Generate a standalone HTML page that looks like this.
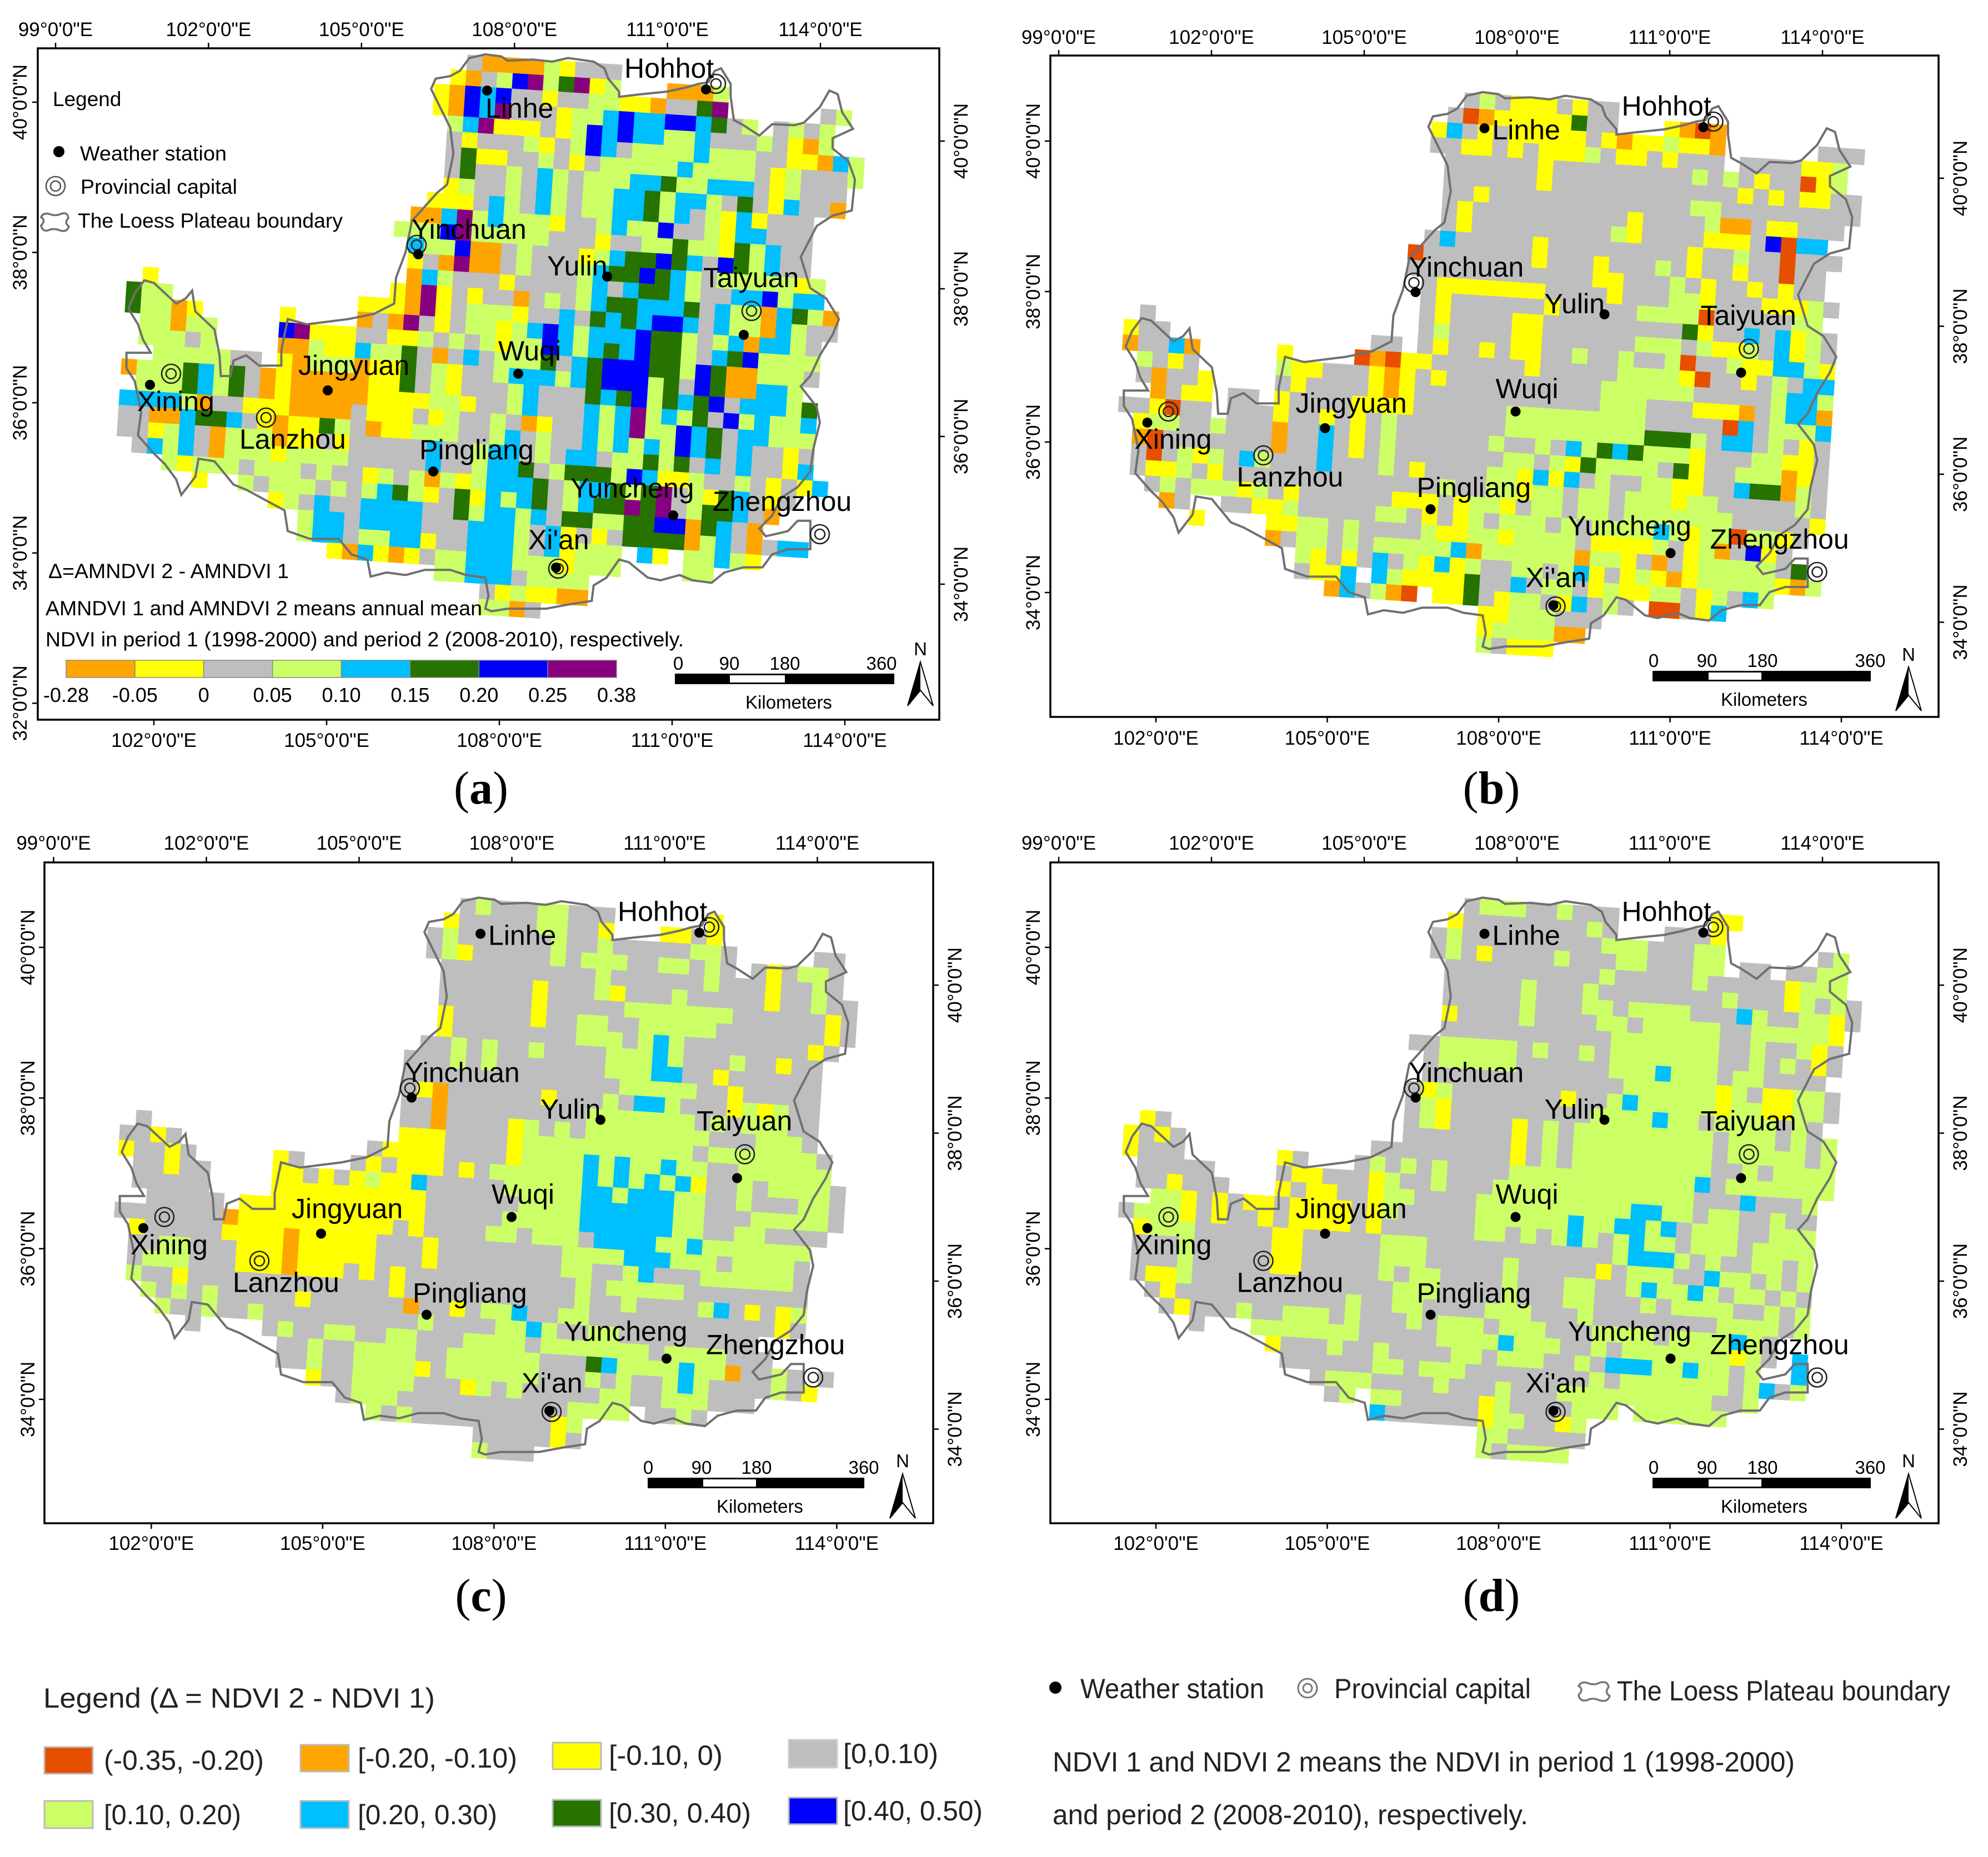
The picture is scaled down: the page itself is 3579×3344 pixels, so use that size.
<!DOCTYPE html>
<html>
<head>
<meta charset="utf-8">
<title>Loess Plateau NDVI change maps</title>
<style>
html,body{margin:0;padding:0;background:#fff}
svg{display:block}
text{font-family:"Liberation Sans",sans-serif;fill:#000}
</style>
</head>
<body>
<svg id="figure" xmlns="http://www.w3.org/2000/svg" width="3579" height="3344" viewBox="0 0 3579 3344">
<rect x="0" y="0" width="3579" height="3344" fill="#fff"/>
<g id="maps"></g>
<g fill="#222">
<text x="78" y="3075" font-size="50" textLength="705" lengthAdjust="spacingAndGlyphs" style="fill:#222">Legend  (Δ = NDVI 2 - NDVI 1)</text>
<rect x="80" y="3146" width="87" height="48" fill="#E64E00" stroke="#bbb" stroke-width="3"/>
<text x="187" y="3187" font-size="50" textLength="288" lengthAdjust="spacingAndGlyphs" style="fill:#222">(-0.35, -0.20)</text>
<rect x="541" y="3142" width="87" height="48" fill="#FFA500" stroke="#bbb" stroke-width="3"/>
<text x="644" y="3183" font-size="50" textLength="287" lengthAdjust="spacingAndGlyphs" style="fill:#222">[-0.20, -0.10)</text>
<rect x="995" y="3138" width="87" height="48" fill="#FFFF00" stroke="#bbb" stroke-width="3"/>
<text x="1096" y="3178" font-size="50" textLength="205" lengthAdjust="spacingAndGlyphs" style="fill:#222">[-0.10, 0)</text>
<rect x="1420" y="3133" width="87" height="50" fill="#BEBEBE" stroke="#ccc" stroke-width="3"/>
<text x="1518" y="3175" font-size="50" textLength="171" lengthAdjust="spacingAndGlyphs" style="fill:#222">[0,0.10)</text>
<rect x="80" y="3243" width="87" height="49" fill="#CCFF66" stroke="#bbb" stroke-width="3"/>
<text x="187" y="3285" font-size="50" textLength="247" lengthAdjust="spacingAndGlyphs" style="fill:#222">[0.10, 0.20)</text>
<rect x="541" y="3243" width="87" height="49" fill="#00BFFF" stroke="#bbb" stroke-width="3"/>
<text x="644" y="3285" font-size="50" textLength="251" lengthAdjust="spacingAndGlyphs" style="fill:#222">[0.20, 0.30)</text>
<rect x="995" y="3241" width="87" height="48" fill="#267300" stroke="#bbb" stroke-width="3"/>
<text x="1096" y="3282" font-size="50" textLength="256" lengthAdjust="spacingAndGlyphs" style="fill:#222">[0.30, 0.40)</text>
<rect x="1420" y="3237" width="87" height="48" fill="#0000FF" stroke="#bbb" stroke-width="3"/>
<text x="1518" y="3278" font-size="50" textLength="251" lengthAdjust="spacingAndGlyphs" style="fill:#222">[0.40, 0.50)</text>
<circle cx="1900" cy="3039" r="11" fill="#000"/>
<text x="1945" y="3058" font-size="50" textLength="331" lengthAdjust="spacingAndGlyphs" style="fill:#222">Weather station</text>
<g fill="none" stroke="#777" stroke-width="3"><circle cx="2354" cy="3040" r="17"/><circle cx="2354" cy="3040" r="8"/></g>
<text x="2402" y="3058" font-size="50" textLength="354" lengthAdjust="spacingAndGlyphs" style="fill:#222">Provincial capital</text>
<path d="M2856 3030 q14 6 24 0 q14 -4 16 8 q-8 10 2 16 q-4 12 -18 8 q-12 -6 -24 0 q-12 2 -14 -10 q10 -10 0 -16 q4 -8 14 -6z" fill="none" stroke="#777" stroke-width="3.5"/>
<text x="2911" y="3062" font-size="50" textLength="600" lengthAdjust="spacingAndGlyphs" style="fill:#222">The Loess Plateau boundary</text>
<text x="1895" y="3190" font-size="50" textLength="1336" lengthAdjust="spacingAndGlyphs" style="fill:#222">NDVI 1 and NDVI 2 means the NDVI in period 1 (1998-2000)</text>
<text x="1895" y="3285" font-size="50" textLength="856" lengthAdjust="spacingAndGlyphs" style="fill:#222">and period 2 (2008-2010), respectively.</text>
</g>
</svg>
<script>
const classColors = {R:'#E64E00',O:'#FFA500',Y:'#FFFF00',G:'#BEBEBE',L:'#CCFF66',B:'#00BFFF',D:'#267300',N:'#0000FF',P:'#880080'};

const panelARows = [
"...... ...... ...... ....GO OOOLYG G..... ...... ......",
"...... ...... ...... ...YOG LNPLDP YG.... ...... ......",
"...... ...... ...... ..YONB NGGYGG LL...O OOL... ......",
"...... ...... ...... ..YONB PGGGYL LLYYOG GDP... ...G..",
"...... ...... ...... ...LBP YYYGYL NBNBBN NBDGL. GLGLL.",
"...... ...... ...... ...GYG GGLYGL NBNBBL LBGGGL GYOL..",
"...... ...... ...... ...GDY YGGLGY GBGLLL LBLLLG GYYOB.",
"...... ...... ...... ...GDG GLGBLG LLLLLL BLLLLG YLGGGL",
"...... ...... ...... ...YLG GLGBLG LLLBBD LLBBBG YLGGGL",
"...... ...... ...... ..YYYG BLGBLG LLBBDL BBLGDG YBGGO.",
"...... ...... ...... .OOBPL BLLLYG GLBBDL BGLYBY GGG...",
"...... ...... ...... LLLNPL LLLGGG GLBLLN GGLYBB GGG...",
"...... ...... ...... BLLNOO GLGGGY YGGLLD LLYDLB GG....",
"...... ...... ...... YGOPOO GLGGGL LBDDND BGNDLB GG....",
".Y.... ...... ...... OBLGGG YGGGGL BDDNDB LGLLLL LYL...",
"DLL... ...... .....Y OPYGYG GOGLGL BGBDDB LGGBBN LBB...",
"DLLOY. ....Y. ...YYY OPYGLL LYGGBG DDDBBB DGBLLO BDLO..",
".LLOLL ....NP YYYOGO PGYGLL YLBNBL BBDBNN BGBLLO BLGG..",
".LLLGL ....OO LYYGGY YLGLGL YLLNBL BBBNDD LGLBOB BLG...",
"..LLLL LGG.YO LLLBLL DGOGBG LLLDGB DDBNDD LGBDNL LLL...",
"OLLLDB LDGOYO OOOOYY DGLYGG LBBBLB DNNNDD LNDOOL LLG...",
".LLLDB LDGOYO OOOOYY DGLYGG GLBGGG DNNNLD GNDOOB BL....",
"BBBBLO GGYYYO OOOOYY YYLLYG GLBGGG BBDNLD BDNGBB BLD...",
"GGOOBD DBGYOY YDLGYY YGYLGG LGOYGG BLBPLB LDGNLB LLB...",
"GGYLBG OLLLOY YGYGOY YLLLGG LBGLGG BLBPLL NBDGBB LLL...",
".GBLBG OLLLYL LLLGGG GGBGGL BBGLGB BLBLBL NBDGBG GYG...",
"...LYL LLGLLL GLGGGG GGBGGL BBDGLD DGLLDL DGBGBG GYB...",
"....Y. .LGLLL GLGYLG LOLYLB BBDGLB BDLNBY LGGLGY GYB...",
"...... ...YLG BGGLBD LYGDYB LBDGLB BDLDPG LYDBGY G.....",
"...... .....L BBGBBB BGGDLB BLBGDD DDPDPG LDDBGO ......",
"...... .....L BBGBBB BGGGBB BLGBYG LLDDNN ODBGO. ......",
"...... ...... .YOLLB BYGGBB BLGBYL YGDDDD OLBGOG BB....",
"...... ...... ...BYO YGLLBB BLLLYL LL.BY. LLBLY. ......",
"...... ...... ...... ..LLBB BGLLLL LL.... LL.... ......",
"...... ...... ...... .....G YLYYOO ...... ...... ......",
"...... ...... ...... .....L LOG... ...... ...... ......"
];

const panelBRows = [
"...... ...... ...... ....GL GYYYGY G..... ...... ......",
"...... ...... ...... ...GRO YYYYYD GG.... ...... ......",
"...... ...... ...... ..YBGY GYYYYY GG...Y ORO... ......",
"...... ...... ...... ..GGYY GYGYYY LYOYYL YYO... ...G..",
"...... ...... ...... ...GGG GGGYGG GGYYGY GGG.GG GGYYGG",
"...... ...... ...... ...GGG GGGYGG GGGGGG GLGLGY GGRYL.",
"...... ...... ...... ...GGY GGGGGG GGGGGG GGGGYG YGYYG.",
"...... ...... ...... ...GYG GGGGGG GGGGGG GLLGGG GGGGGG",
"...... ...... ...... ...GYG GGGGGG GGGYGG GGLOOG YYGGGG",
"...... ...... ...... ..GBGG GGGYGG GGLYGG GGYYYG NRBB..",
"...... ...... ...... .RGGGG GGGYGG GGGGGG GYGGLG GRGGG.",
"...... ...... ...... .GGGGG GGGGGG GYGGGL GYGGYG GRGG..",
"...... ...... ...... .GYYYY YYYGGG YYGGGL GYGGYG YGG...",
"...... ...... ...... .GYGGG GGGYGG GYGGGL LYGGGY YYLG..",
".G.... ...... ...... .GYGGG GYYGGG GGGLLL LRGGGG GLL...",
"YGG... ...... ...... .GLGGG GYYGGG GGGGGG DYGGBG BYLG..",
"OGGBO. ....Y. ....GG .GYGGY GYYGGL GGGLLL GLYYLG BYLG..",
".LGYG. ....LY YGGROR YYGGGG GGYGGG GGLGGL RGGLYY BBLY..",
".GOGGY ....GY GGGGYO YGYGGG GGGGGG GGLLLL YRGGYG LGBB..",
"..OGYY .GG.YG GGGGYO YGGGGG GGGGGG GLLLLL LGGGGG LBBL..",
"GGYRGG .GGGYG GYGYYY YGGGGG GLLLLL LLLLGG GYYYOG LBBO..",
".YLLGG LGGGOG GBGYGL GGGGGG GLLLLL LLLLGG GGGRBG LLLB..",
".ORGGG GGGGOG GBGYGL GGGGGG LGGLGB LLLLDD DLGBBG LGYG..",
".GRGLY LGBLGG GBGYGL GGGGGG GLLGLY DDBDLL LYGGGL LYYG..",
".GYYLG YGGGGG GGGGGL GYGGGG LLYBYB GLLLLG DYGGLL LOYG..",
"..GLGL LLYLGY GGGGGG GGGLGG LLYLLG LLGGLL YYGGBD DOLG..",
"...OG. .GGYYL GGGGGG YYYGYL LYGLLG LLGLLL YLLGGG GGLG..",
"....Y. ...YYL LGLGLL GYGYLG LLLGLG LLGLLL LLLGGG GGY...",
"...... ...OGL LGLGGG GLYYLL YLLLLG LLLLBL YLLRLL YG....",
"...... .....L YGYGLL LLLBOL LLLLLO YYYYLG YLOGNY G.....",
"...... .....G YYBGBG LYBYLG GLLGLB LLYGOG YLLLLL GD....",
"...... ...... .OB.BL YYYYDG GBGLLG YGYLYO YLLLLL YOL...",
"...... ...... ...GLO R.YYDG YLLGYB YLYYLL GYLGBL ......",
"...... ...... ...... .....Y YLLLGG GLG.RR GYB... ......",
"...... ...... ...... .....Y LLLLOO G..... ...... ......",
"...... ...... ...... .....L GYYY.. ...... ...... ......"
];

const panelCRows = [
"...... ...... ...... ....GL GGGLLG G..... ...... ......",
"...... ...... ...... ...YGG GGGLLG GG.... ..Y... ......",
"...... ...... ...... ..GLGG GGGGLG GY...Y YGY... ......",
"...... ...... ...... ..GLYG GGGGLG LLGGGG GLLG.. ...G..",
"...... ...... ...... ...GGG GGGGGG GLLGGL LGLG.G YGLLG.",
"...... ...... ...... ...GGG GGGYGG GLGGGG GGLGGG YGGLG.",
"...... ...... ...... ...GGG GGGYGG GLYGGG LGGGGG YGGLG.",
"...... ...... ...... ...YGG GGGYGG LGGLLL LLLLGG GGGGYG",
"...... ...... ...... ...YGG GGGGGG LLGGLL LLLGGG GGGGYG",
"...... ...... ...... ..GGLG LGGLGG GLLGLB LGGGGG GGGYGG",
"...... ...... ...... .GGGLG LGGGGG GGLLLB LGGGLG GYGG..",
"...... ...... ...... .GGGGG GGGGGG GGLLLB BGGYGG GGGG..",
"...... ...... ...... GYOGGG GGGYGG GGLLLL LGGYGG GGG...",
"...... ...... ...... GGOGGG GGGGGG GLGBBL GGGYLY LGG...",
".G.... ...... ...... GGOGGG GYLGLG LLLLLL LGLGLL LGG...",
"GGYG.. ...... ...... YYYGGG GYLLLL LLLLLL LLGGGL LLG...",
"YGGYG. ....YG ....GY YYYGGG GYLLLL BLLLLL LGLLLL LLLG..",
".GGYGG ....YY GYGGYG YYYGYG LLLLLL BLBLLB LLGGLL LLLL..",
".GGGGG ....YY YYYYLY YBGGGG GLLLLL BLBLBL BYGGLG LLLL..",
"..GGGG G.YYYY YYYYYY YYGGGG GGLLLL BBLBBB LLGGLG GGLLG.",
"GGGGGG GOYYYY YYYYYY YYGGGG GLLLLL BBBBBB LLGGGL LLLLG.",
".YGGGG GYYYYO YYYYYY GYGGGG LLGLLL GBBBBB LLGGLL GGGGG.",
".GGLLG GGYYYO YYYYYG GGYGGG GGGGGL LBBBBL LBLLLL LLL...",
".GLLLG GGYYYO YYYYYG GGYGGG GGGGGL LLLBBB LLLGLL LLG...",
".LGGYG GGGGGG GGGGYG YGGGGG GGGGGG LGGLBG GGLLLL LLG...",
"..LGLG LGGGGG YGGGGG YGGGGG GGGGGG LGLLLL LGGGGG GGG...",
"...LGG LGGLGG GGGGGG GOGGYG LLBGGL LGGLGG GGLBGY GYL...",
"....G. ...GLG GLLGGG GLGGGG LLBLGG GGGGGG GGGGGG YG....",
"...... ....GG LGGGGL LGGGLL LLGLLL LLGGGG GGGGG. ......",
"...... ....GG LGGLLL LGGLLL LLLGGG LLLLGL LLLGGG ......",
"...... ...... YGGLLL LYGLLL LLLGGG DBLLLL BLLOGG LG.G..",
"...... ...... ..GLLL LGGGYL GLGGGG LGLGGL BLGGGG LGY...",
"...... ...... ...LLL GGGGGG GGGGGL GLLGGL LLGGG. ......",
"...... ...... ....LG LGGGGG GGGGYL LLL.GG LG.... ......",
"...... ...... ...... .....G GGGGYG ...... ...... ......",
"...... ...... ...... .....L GGG... ...... ...... ......"
];

const panelDRows = [
"...... ...... ...... ....GL LLGGLG G..... ...... ......",
"...... ...... ...... ...YGG GGGGGG LG.... ..YY.. ......",
"...... ...... ...... ..GLGG GGGGGG GG...G GGY... ......",
"...... ...... ...... ..GLGY GGGGLG GLLLGG GLL... ...G..",
"...... ...... ...... ...GGG GGGGGG GGLLGG GLL.GG .GGLL.",
"...... ...... ...... ...GGG GGLGGG LLGGGG GLGGGG GYLLL.",
"...... ...... ...... ...GGG GGLGGG LGGGGG GGGLGG GYLGL.",
"...... ...... ...... ...YGG GGLGGG GLGLLL LGGGBL GGLLYG",
"...... ...... ...... ...GGG GGGGGG GLLGLL LLLGGL LLLLYG",
"...... ...... ...... .GGLLL LLGLGG LGLLLL LLLGGL GGLYG.",
"...... ...... ...... ..GLLL LLGGGG GGLLLL LLLGGL GLGYG.",
"...... ...... ...... ..GGGG GGGGGG GGLLLB LLLGLL GGGG..",
"...... ...... ...... GYLGGG GGGGYG GGLLLL LLYLGY YLLG..",
"...... ...... ...... GLYGGG GGGGGG GLBLLL LLYLLY YLLG..",
".YG... ...... ...... GLYGGG GYGLGL LLLLBL LGLLLL GLG...",
"YGYG.. ...... ...... GGGGGG GYGLGL LLLLLL LLGLLL GLGL..",
"YGGG.. ....YG ....GG GGGGGG GYGLGL LLLLLL LLGLLL LLGL..",
".GGGGG ....GY YGGGLG LGLGGG GLLLLL LLLLLL LLGGLG LLLL..",
".GGYGG G...YG YYGGYL GGLGGG LLLLLL LLLLLL LBGLLL LLLL..",
"..LLYG YGYYGY YYYGYL LGGGGL LLLLLL LLLLLL LGGGBG GGL...",
"GLLLYG YGGYGY YYYGYL GGGGGL LLLLLB LLLBBL LGLLGG LGG...",
".YLLLG GGGGYY GGGGYG GGGGGL LGLGLB LLBBLB GLLLGG LLL...",
".GGGLG GGGGYY GGGGGL LLGGGG GGGGGG GGLBLL GLLLGL LLL...",
".GGGLG GGGGYY GGGGGL LLGGGG GLGGGG GGLBBB LGLGGL LGL...",
".GYYLG GGGGGG GGGGGL GLLGGG GLGGGL LYGLLL GGBLLG LGL...",
"..GYGG GGGGGG GGGLGG LLLGGG GLGGGL LGGLBL LBLGLL GLG...",
"...GYG GGLGGL LLGLGG LLGGGG LLLGGG LGGGLG LLLLGG LGL...",
"....G. ..LLLL LLLGGG LGLLLG LLLGGG LGGGGG GGLLLL GL....",
"...... ...YGG GLGGGG GGLLLL BLLLGG LLLLGL LLLBLG ......",
"...... ....GG GGGGLG GGGLLG LLLGGL LGLLLL LLLYLG .B....",
"...... ...... GLLGLL GLLLGG GGGGGG GBBBLL BLLGL. .B....",
"...... ...... .GLLGG GGLGGG LGGGLL LGLLLL LLLGLB GL....",
"...... ...... ....LL GGGGGY LGGGGL LLLLLL LLGGL. ......",
"...... ...... ....BG GGGGGY LLGGYL LL.LLL LLL... ......",
"...... ...... ...... .....L LGGGGG ...... ...... ......",
"...... ...... ...... .....L GLLLL. ...... ...... ......"
];

const boundaryTrace = [690,235,697,215,720,210,735,200,750,175,775,168,800,172,810,180,850,178,880,182,905,175,945,182,962,195,968,215,985,240,985,250,1020,245,1060,240,1090,232,1110,225,1125,222,1135,200,1145,195,1160,225,1160,250,1165,295,1180,305,1205,325,1225,303,1260,305,1275,300,1300,270,1315,238,1328,245,1335,280,1352,312,1320,330,1320,350,1345,375,1355,410,1350,470,1320,480,1295,500,1270,560,1285,620,1310,640,1330,680,1320,710,1300,750,1285,790,1270,810,1295,850,1300,880,1290,930,1285,975,1265,1005,1240,1025,1225,1060,1205,1085,1215,1100,1250,1090,1265,1070,1285,1070,1285,1125,1250,1125,1225,1135,1210,1160,1180,1160,1150,1170,1130,1190,1100,1185,1080,1175,1050,1185,1030,1180,1000,1150,985,1145,965,1180,945,1195,942,1225,905,1232,870,1240,855,1240,810,1240,785,1245,775,1240,780,1215,775,1180,745,1175,720,1165,680,1165,650,1175,620,1170,595,1178,590,1145,565,1135,545,1105,500,1105,465,1090,460,1050,430,1030,400,1010,380,1000,350,955,325,950,320,985,298,1020,290,990,272,960,255,940,230,905,235,860,225,800,212,775,212,745,250,745,238,720,230,690,215,660,225,630,240,605,255,610,290,650,305,640,315,625,320,665,350,700,358,750,360,790,375,790,380,760,400,750,420,770,455,770,455,740,465,680,495,690,560,680,600,670,632,650,635,600,650,550,660,490,700,435,715,420,725,360,720,310];

const stationNames = ["Linhe","Hohhot","Yinchuan","Yulin","Taiyuan","Wuqi","Jingyuan","Xining","Pingliang","Yuncheng","Xi'an"];
const stationLon = [877,1271,753,1093,1339,933,590,270,780,1212,1001];
const stationLat = [163,161,458,498,603,673,703,693,849,928,1022];
const capitalNames = ["Hohhot","Yinchuan","Taiyuan","Xining","Lanzhou","Xi'an","Zhengzhou"];
const capitalLon = [1289,750,1353,308,479,1005,1476];
const capitalLat = [151,441,560,673,752,1024,962];
const cityLabels = ["Hohhot","Linhe","Yinchuan","Yulin","Taiyuan","Wuqi","Jingyuan","Xining","Lanzhou","Pingliang","Yuncheng","Zhengzhou","Xi'an"];
const cityLabelX = [1124,891,741,985,1266,897,537,247,431,755,1027,1283,951];
const cityLabelY = [140,183,430,496,517,649,675,740,808,827,896,920,989];

const topLonTicks = [99,102,105,108,111,114];
const bottomLonTicks = [102,105,108,111,114];
const leftLatTicks = [40,38,36,34];
const rightLatTicks = [40,38,36,34];
const scaleLabels = [0,90,180,360];
const colorBarClasses = ["O","Y","G","L","B","D","N","P"];
const colorBarLabels = ["-0.28","-0.05","0","0.05","0.10","0.15","0.20","0.25","0.38"];

const SVGNS = 'http://www.w3.org/2000/svg';
const CELL = 27.93, GX = 220.2, GY = 100.6;
/* the raster grid is slightly rotated in the map projection */
const GRID_P = 27.9, GRID_COS = Math.cos(3.7 * Math.PI / 180), GRID_SIN = Math.sin(3.7 * Math.PI / 180), GRID_AX = 722.3, GRID_AY = 650.2;
const root = document.getElementById('maps');

function mk(tag, parent, name) {
  const el = document.createElementNS(SVGNS, tag);
  
  
  parent.appendChild(el);
  return el;
}
function txt(parent, name, x, y, s, size, anchor, rot, len) {
  const t = mk('text', parent, name);
  t.setAttribute('x', x);
  t.setAttribute('y', y);
  t.setAttribute('font-size', size);
  if (anchor) t.setAttribute('text-anchor', anchor);
  if (rot) t.setAttribute('transform', 'rotate(' + rot + ' ' + x + ' ' + y + ')');
  if (len) { t.setAttribute('textLength', len); t.setAttribute('lengthAdjust', 'spacingAndGlyphs'); }
  t.textContent = s;
  return t;
}
function line(parent, name, x1, y1, x2, y2, w) {
  const l = mk('line', parent, name);
  l.setAttribute('x1', x1); l.setAttribute('y1', y1);
  l.setAttribute('x2', x2); l.setAttribute('y2', y2);
  l.setAttribute('stroke', '#000');
  l.setAttribute('stroke-width', w);
  return l;
}
function rectEl(parent, name, x, y, w, h, fill) {
  const r = mk('rect', parent, name);
  r.setAttribute('x', x); r.setAttribute('y', y);
  r.setAttribute('width', w); r.setAttribute('height', h);
  r.setAttribute('fill', fill);
  return r;
}
function capitalSymbol(parent, name, cx, cy, col) {
  const g = mk('g', parent, name);
  [17, 9].forEach(function (rad) {
    const c = mk('circle', g, name + '-ring');
    c.setAttribute('cx', cx); c.setAttribute('cy', cy); c.setAttribute('r', rad);
    c.setAttribute('fill', 'none'); c.setAttribute('stroke', col); c.setAttribute('stroke-width', 2.6);
  });
}
function lonText(v) { return v + '°0\'0"E'; }
function latText(v) { return v + '°0\'0"N'; }

/* grid node position in base-map coordinates */
function nodeX(i, j) { return GRID_AX + GRID_P * (i * GRID_COS - j * GRID_SIN); }
function nodeY(i, j) { return GRID_AY + GRID_P * (i * GRID_SIN + j * GRID_COS); }

const panels = [
 {id:'a', rows:panelARows, dx:0, dy:0, frame:[68,87,1691,1296],
  topX:[100,275.4], botX:[277,311], leftY:[184,270.6], rightY:[254,266], topBase:65, botBase:1345,
  leftBase:48, rightBase:1742, lats:[40,38,36,34,32],
  scale:{bar:[1215,1610], white:[1314,1413], y:[1213,1232], base:1206, cx:[1221,1313,1413,1587], km:[1420,1276], n:[1657,1180], arrow:[1192,1271]},
  letter:[866,1447]},
 {id:'b', rows:panelBRows, dx:1795.5, dy:68, frame:[1891,100,3490,1291],
  topX:[1906,275], botX:[2081,308.5], leftY:[254,271], rightY:[321,266.5], topBase:79, botBase:1341,
  leftBase:1872, rightBase:3541, lats:leftLatTicks,
  scale:{bar:[2975,3368], white:[3076,3171], y:[1208,1227], base:1201, cx:[2977,3073,3173,3367], km:[3176,1271], n:[3436,1190], arrow:[1201,1280]},
  letter:[2685,1447]},
 {id:'c', rows:panelCRows, dx:-12, dy:1518.5, frame:[80,1553,1680,2743],
  topX:[96.5,275], botX:[272.4,308.5], leftY:[1706,271.3], rightY:[1774,266.5], topBase:1530, botBase:2791,
  leftBase:62, rightBase:1731, lats:leftLatTicks,
  scale:{bar:[1166,1556], white:[1266,1361], y:[2661,2680], base:2654, cx:[1167,1263,1362,1555], km:[1368,2724], n:[1625,2642], arrow:[2654,2734]},
  letter:[866,2901]},
 {id:'d', rows:panelDRows, dx:1795.5, dy:1518.5, frame:[1891,1553,3490,2743],
  topX:[1906,275], botX:[2081,308.5], leftY:[1706,271.3], rightY:[1774,266.5], topBase:1530, botBase:2791,
  leftBase:1872, rightBase:3541, lats:leftLatTicks,
  scale:{bar:[2975,3368], white:[3076,3171], y:[2661,2680], base:2654, cx:[2977,3073,3173,3367], km:[3176,2724], n:[3436,2642], arrow:[2654,2734]},
  letter:[2685,2901]}
];

panels.forEach(function (p) {
  const g = mk('g', root, 'panel-' + p.id);
  const xTop = function (lon) { return p.topX[0] + (lon - 99) / 3 * p.topX[1]; };
  const xBot = function (lon) { return p.botX[0] + (lon - 102) / 3 * p.botX[1]; };
  const yLeft = function (lat) { return p.leftY[0] + (40 - lat) / 2 * p.leftY[1]; };
  const yRight = function (lat) { return p.rightY[0] + (40 - lat) / 2 * p.rightY[1]; };

  const cells = mk('g', g, 'ndvi-grid-' + p.id);
  const table = p.rows.map(function (row) { return row.replace(/ /g, ''); });
  for (let j = -30; j < 30; j++) {
    for (let i = -30; i < 40; i++) {
      const cx = nodeX(i + 0.5, j + 0.5), cy = nodeY(i + 0.5, j + 0.5);
      const r = Math.floor((cy - GY) / CELL), c = Math.floor((cx - GX) / CELL);
      if (r < 0 || r >= table.length) continue;
      const code = table[r][c];
      if (!code || code === '.') continue;
      const poly = mk('polygon', cells, 'ndvi-cell');
      const e = 0.012;
      const corners = [[i - e, j - e], [i + 1 + e, j - e], [i + 1 + e, j + 1 + e], [i - e, j + 1 + e]];
      poly.setAttribute('points', corners.map(function (n) {
        return (nodeX(n[0], n[1]) + p.dx).toFixed(1) + ',' + (nodeY(n[0], n[1]) + p.dy).toFixed(1);
      }).join(' '));
      poly.setAttribute('fill', classColors[code]);
    }
  }

  const f = p.frame;
  const frame = rectEl(g, 'map-frame-' + p.id, f[0], f[1], f[2] - f[0], f[3] - f[1], 'none');
  frame.setAttribute('stroke', '#000');
  frame.setAttribute('stroke-width', 3.5);

  const outline = mk('polygon', g, 'loess-plateau-boundary-' + p.id);
  const pts = [];
  for (let i = 0; i < boundaryTrace.length; i += 2) {
    pts.push(((boundaryTrace[i] / 0.8716 - 15.5 + p.dx).toFixed(1)) + ',' + ((boundaryTrace[i + 1] / 1.074 - 58.5 + p.dy).toFixed(1)));
  }
  outline.setAttribute('points', pts.join(' '));
  outline.setAttribute('fill', 'none');
  outline.setAttribute('stroke', '#707070');
  outline.setAttribute('stroke-width', 4);

  topLonTicks.forEach(function (v) {
    line(g, 'top-tick', xTop(v), f[1] - 10, xTop(v), f[1], 2.5);
    txt(g, 'top-lon-label', xTop(v), p.topBase, lonText(v), 35, 'middle');
  });
  bottomLonTicks.forEach(function (v) {
    line(g, 'bottom-tick', xBot(v), f[3], xBot(v), f[3] + 10, 2.5);
    txt(g, 'bottom-lon-label', xBot(v), p.botBase, lonText(v), 35, 'middle');
  });
  p.lats.forEach(function (v) {
    line(g, 'left-tick', f[0] - 10, yLeft(v), f[0], yLeft(v), 2.5);
    txt(g, 'left-lat-label', p.leftBase, yLeft(v), latText(v), 35, 'middle', -90);
  });
  rightLatTicks.forEach(function (v) {
    line(g, 'right-tick', f[2], yRight(v), f[2] + 10, yRight(v), 2.5);
    txt(g, 'right-lat-label', p.rightBase, yRight(v), latText(v), 35, 'middle', -90);
  });

  capitalNames.forEach(function (n, i) {
    capitalSymbol(g, 'capital-' + n.toLowerCase().replace("'", ''), capitalLon[i] + p.dx, capitalLat[i] + p.dy, '#222');
  });
  stationNames.forEach(function (n, i) {
    const d = mk('circle', g, 'station-' + n.toLowerCase().replace("'", ''));
    d.setAttribute('cx', stationLon[i] + p.dx);
    d.setAttribute('cy', stationLat[i] + p.dy);
    d.setAttribute('r', 9);
    d.setAttribute('fill', '#000');
  });
  cityLabels.forEach(function (n, i) {
    let lx = cityLabelX[i], ly = cityLabelY[i];
    if (p.id === 'a' && n === 'Linhe') { lx = 874; ly = 212; }
    txt(g, 'city-label', lx + p.dx, ly + p.dy, n, 50);
  });

  const sc = p.scale;
  rectEl(g, 'scale-bar', sc.bar[0], sc.y[0], sc.bar[1] - sc.bar[0], sc.y[1] - sc.y[0], '#000');
  rectEl(g, 'scale-bar-white', sc.white[0], sc.y[0] + 3, sc.white[1] - sc.white[0], sc.y[1] - sc.y[0] - 6, '#fff');
  scaleLabels.forEach(function (v, i) {
    txt(g, 'scale-label', sc.cx[i], sc.base, v, 33, 'middle');
  });
  txt(g, 'scale-units', sc.km[0], sc.km[1], 'Kilometers', 33, 'middle');
  txt(g, 'north-label', sc.n[0], sc.n[1], 'N', 33, 'middle');
  const ax = sc.n[0], a0 = sc.arrow[0], a1 = sc.arrow[1];
  const arrowOut = mk('polygon', g, 'north-arrow-outline');
  arrowOut.setAttribute('points', ax + ',' + a0 + ' ' + (ax + 23) + ',' + a1 + ' ' + ax + ',' + (a1 - 28) + ' ' + (ax - 23) + ',' + a1);
  arrowOut.setAttribute('fill', '#fff');
  arrowOut.setAttribute('stroke', '#000');
  arrowOut.setAttribute('stroke-width', 2);
  const arrowIn = mk('polygon', g, 'north-arrow-fill');
  arrowIn.setAttribute('points', ax + ',' + a0 + ' ' + ax + ',' + (a1 - 28) + ' ' + (ax - 23) + ',' + a1);
  arrowIn.setAttribute('fill', '#000');

  const letter = mk('text', g, 'panel-letter-' + p.id);
  letter.setAttribute('x', p.letter[0]);
  letter.setAttribute('y', p.letter[1]);
  letter.setAttribute('font-size', 84);
  letter.setAttribute('text-anchor', 'middle');
  letter.setAttribute('style', 'font-family:"Liberation Serif",serif');
  const l1 = mk('tspan', letter, 'panel-letter-open');
  l1.textContent = '(';
  const l2 = mk('tspan', letter, 'panel-letter-char');
  l2.setAttribute('font-weight', 'bold');
  l2.textContent = p.id;
  const l3 = mk('tspan', letter, 'panel-letter-close');
  l3.textContent = ')';
});

/* Panel (a) embedded legend */
const la = mk('g', root, 'panel-a-legend');
txt(la, 'legend-title', 95, 191, 'Legend', 37);
const wsDot = mk('circle', la, 'legend-weather-station-symbol');
wsDot.setAttribute('cx', 106);
wsDot.setAttribute('cy', 273);
wsDot.setAttribute('r', 10);
wsDot.setAttribute('fill', '#000');
txt(la, 'legend-weather-station-label', 144, 289, 'Weather station', 37, null, null, 264);
capitalSymbol(la, 'legend-capital-symbol', 100, 335, '#555');
txt(la, 'legend-capital-label', 145, 349, 'Provincial capital', 37, null, null, 282);
const bIcon = mk('path', la, 'legend-boundary-symbol');
bIcon.setAttribute('d', 'M88 385 q12 5 22 0 q12 -4 13 8 q-8 8 1 15 q-4 11 -16 7 q-11 -5 -22 0 q-10 2 -12 -9 q9 -9 0 -15 q3 -8 14 -6z');
bIcon.setAttribute('fill', 'none');
bIcon.setAttribute('stroke', '#707070');
bIcon.setAttribute('stroke-width', 3.5);
txt(la, 'legend-boundary-label', 140, 410, 'The Loess Plateau boundary', 37, null, null, 477);
txt(la, 'legend-delta-definition', 87, 1041, 'Δ=AMNDVI 2 - AMNDVI 1', 37, null, null, 433);
txt(la, 'legend-note-line-1', 82, 1108, 'AMNDVI 1 and AMNDVI 2 means annual mean', 37, null, null, 786);
txt(la, 'legend-note-line-2', 82, 1164, 'NDVI in period 1 (1998-2000) and period 2 (2008-2010), respectively.', 37, null, null, 1149);
const barX = function (i) { return 119 + i * (1110 - 119) / colorBarClasses.length; };
colorBarClasses.forEach(function (k, i) {
  const s = rectEl(la, 'colorbar-segment', barX(i), 1189, barX(i + 1) - barX(i), 31, classColors[k]);
  s.setAttribute('stroke', '#888');
  s.setAttribute('stroke-width', 1.5);
});
colorBarLabels.forEach(function (v, i) {
  txt(la, 'colorbar-label', barX(i), 1264, v, 36, 'middle');
});
</script>
</body>
</html>
